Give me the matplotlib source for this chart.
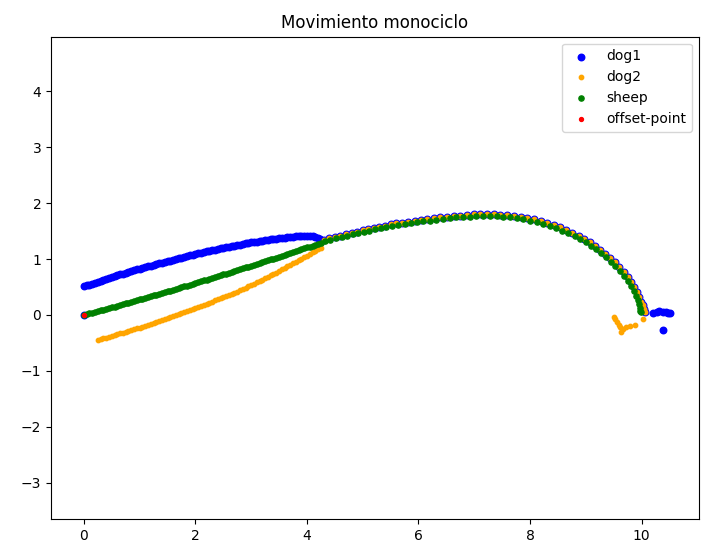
import matplotlib
matplotlib.use('Agg')
import matplotlib.pyplot as plt

# dog1: start point, straight run, arc (shared with dog2), end cluster
dog1_x = [0.0,
          0.00, 0.05, 0.10, 0.15, 0.20, 0.25, 0.30, 0.35, 0.40, 0.45,
          0.50, 0.55, 0.60, 0.65, 0.70, 0.75, 0.80, 0.85, 0.90, 0.95,
          1.00, 1.05, 1.10, 1.15, 1.20, 1.25, 1.30, 1.35, 1.40, 1.45,
          1.50, 1.55, 1.60, 1.65, 1.70, 1.75, 1.80, 1.85, 1.90, 1.95,
          2.00, 2.05, 2.10, 2.15, 2.20, 2.25, 2.30, 2.35, 2.40, 2.45,
          2.50, 2.55, 2.60, 2.65, 2.70, 2.75, 2.80, 2.85, 2.90, 2.95,
          3.00, 3.05, 3.10, 3.15, 3.20, 3.25, 3.30, 3.35, 3.40, 3.45,
          3.50, 3.55, 3.60, 3.65, 3.70, 3.75, 3.80, 3.85, 3.90, 3.95,
          4.00, 4.05, 4.10, 4.15, 4.20, 4.24]
dog1_y = [0.0,
          0.51, 0.528, 0.545, 0.563, 0.58, 0.598, 0.615, 0.633, 0.65, 0.665,
          0.68, 0.695, 0.71, 0.725, 0.74, 0.755, 0.77, 0.785, 0.80, 0.815,
          0.83, 0.843, 0.855, 0.868, 0.88, 0.895, 0.91, 0.923, 0.935, 0.948,
          0.96, 0.975, 0.99, 1.003, 1.015, 1.028, 1.04, 1.053, 1.065, 1.078,
          1.09, 1.103, 1.115, 1.128, 1.14, 1.15, 1.16, 1.17, 1.18, 1.19,
          1.20, 1.21, 1.22, 1.23, 1.24, 1.25, 1.26, 1.27, 1.28, 1.29,
          1.30, 1.308, 1.315, 1.323, 1.33, 1.338, 1.345, 1.353, 1.36, 1.365,
          1.37, 1.378, 1.385, 1.39, 1.395, 1.40, 1.405, 1.41, 1.415, 1.418,
          1.42, 1.415, 1.405, 1.39, 1.375, 1.365]

# arc followed by both dogs
arc_x = [4.30, 4.40, 4.50, 4.60, 4.70, 4.80, 4.90, 5.00, 5.10, 5.20,
         5.30, 5.40, 5.50, 5.60, 5.71, 5.82, 5.93, 6.04, 6.15, 6.27,
         6.39, 6.51, 6.63, 6.75, 6.87, 6.99, 7.11, 7.23, 7.35, 7.47,
         7.59, 7.71, 7.83, 7.95, 8.07, 8.19, 8.31, 8.43, 8.54, 8.65,
         8.76, 8.87, 8.97, 9.07, 9.17, 9.26, 9.35, 9.44, 9.52, 9.60,
         9.68, 9.75, 9.81, 9.87, 9.92, 9.96, 9.99, 10.02, 10.04, 10.06]
arc_y = [1.34, 1.37, 1.395, 1.42, 1.445, 1.47, 1.49, 1.515, 1.535, 1.56,
         1.58, 1.60, 1.62, 1.64, 1.655, 1.67, 1.685, 1.70, 1.715, 1.73,
         1.745, 1.76, 1.77, 1.78, 1.79, 1.80, 1.805, 1.805, 1.80, 1.795,
         1.785, 1.77, 1.755, 1.735, 1.71, 1.68, 1.645, 1.61, 1.57, 1.525,
         1.475, 1.42, 1.365, 1.305, 1.24, 1.17, 1.10, 1.02, 0.945, 0.86,
         0.77, 0.68, 0.59, 0.50, 0.41, 0.32, 0.24, 0.17, 0.11, 0.06]

dog1_end_x = [10.21, 10.27, 10.32, 10.39, 10.44, 10.47, 10.51, 10.39]
dog1_end_y = [0.04, 0.06, 0.08, 0.06, 0.05, 0.04, 0.03, -0.26]

# dog2: straight run, arc, hook at the end
dog2_x = [0.25, 0.30, 0.35, 0.40, 0.45, 0.50, 0.55, 0.60, 0.65, 0.70,
          0.75, 0.80, 0.85, 0.90, 0.95, 1.00, 1.05, 1.10, 1.15, 1.20,
          1.25, 1.30, 1.35, 1.40, 1.45, 1.50, 1.55, 1.60, 1.65, 1.70,
          1.75, 1.80, 1.85, 1.90, 1.95, 2.00, 2.05, 2.10, 2.15, 2.20,
          2.25, 2.30, 2.35, 2.40, 2.45, 2.50, 2.55, 2.60, 2.65, 2.70,
          2.75, 2.80, 2.85, 2.90, 2.95, 3.00, 3.05, 3.10, 3.15, 3.20,
          3.25, 3.30, 3.35, 3.40, 3.45, 3.50, 3.55, 3.60, 3.65, 3.70,
          3.75, 3.80, 3.85, 3.90, 3.95, 4.00, 4.05, 4.10, 4.15, 4.20,
          4.25]
dog2_y = [-0.45, -0.435, -0.42, -0.405, -0.39, -0.375, -0.36, -0.345, -0.33, -0.315,
          -0.30, -0.285, -0.27, -0.255, -0.24, -0.225, -0.21, -0.193, -0.175, -0.158,
          -0.14, -0.123, -0.105, -0.088, -0.07, -0.055, -0.04, -0.023, -0.005, 0.013,
          0.03, 0.048, 0.065, 0.083, 0.10, 0.12, 0.14, 0.16, 0.18, 0.20,
          0.22, 0.24, 0.26, 0.28, 0.30, 0.32, 0.34, 0.36, 0.38, 0.40,
          0.42, 0.44, 0.46, 0.485, 0.51, 0.535, 0.56, 0.585, 0.61, 0.635,
          0.66, 0.685, 0.71, 0.735, 0.76, 0.788, 0.815, 0.843, 0.87, 0.898,
          0.925, 0.953, 0.98, 1.008, 1.035, 1.063, 1.09, 1.12, 1.15, 1.175,
          1.20]
dog2_end_x = [10.02, 9.88, 9.80, 9.73, 9.67, 9.63, 9.62, 9.59, 9.56, 9.53, 9.50]
dog2_end_y = [-0.075, -0.18, -0.20, -0.21, -0.25, -0.30, -0.22, -0.18, -0.13, -0.08, -0.03]

# sheep: straight run then arc
sheep_x = [0.00, 0.05, 0.10, 0.15, 0.20, 0.25, 0.30, 0.35, 0.40, 0.45,
           0.50, 0.55, 0.60, 0.65, 0.70, 0.75, 0.80, 0.85, 0.90, 0.95,
           1.00, 1.05, 1.10, 1.15, 1.20, 1.25, 1.30, 1.35, 1.40, 1.45,
           1.50, 1.55, 1.60, 1.65, 1.70, 1.75, 1.80, 1.85, 1.90, 1.95,
           2.00, 2.05, 2.10, 2.15, 2.20, 2.25, 2.30, 2.35, 2.40, 2.45,
           2.50, 2.55, 2.60, 2.65, 2.70, 2.75, 2.80, 2.85, 2.90, 2.95,
           3.00, 3.05, 3.10, 3.15, 3.20, 3.25, 3.30, 3.35, 3.40, 3.45,
           3.50, 3.55, 3.60, 3.65, 3.70, 3.75, 3.80, 3.85, 3.90, 3.95,
           4.00, 4.05, 4.10, 4.15, 4.20, 4.25,
           4.32, 4.42, 4.52, 4.62, 4.72, 4.82, 4.92, 5.02, 5.12, 5.22,
           5.32, 5.42, 5.53, 5.64, 5.75, 5.86, 5.97, 6.08, 6.20, 6.32,
           6.44, 6.56, 6.68, 6.80, 6.92, 7.04, 7.16, 7.28, 7.40, 7.52,
           7.64, 7.76, 7.88, 8.00, 8.12, 8.24, 8.36, 8.47, 8.58, 8.69,
           8.80, 8.90, 9.00, 9.10, 9.19, 9.28, 9.37, 9.45, 9.53, 9.61,
           9.68, 9.75, 9.81, 9.86, 9.90, 9.93, 9.95, 9.97, 9.98, 9.99]
sheep_y = [0.000, 0.014, 0.027, 0.041, 0.054, 0.068, 0.082, 0.096, 0.109, 0.123,
           0.137, 0.151, 0.165, 0.179, 0.193, 0.207, 0.221, 0.235, 0.250, 0.264,
           0.278, 0.292, 0.307, 0.321, 0.336, 0.350, 0.365, 0.379, 0.394, 0.408,
           0.423, 0.438, 0.452, 0.467, 0.482, 0.497, 0.512, 0.527, 0.542, 0.557,
           0.572, 0.587, 0.602, 0.618, 0.633, 0.648, 0.663, 0.679, 0.694, 0.710,
           0.725, 0.740, 0.756, 0.772, 0.787, 0.803, 0.819, 0.835, 0.850, 0.866,
           0.882, 0.898, 0.914, 0.930, 0.946, 0.962, 0.978, 0.994, 1.010, 1.027,
           1.043, 1.059, 1.076, 1.092, 1.109, 1.125, 1.142, 1.158, 1.175, 1.191,
           1.208, 1.225, 1.241, 1.258, 1.275, 1.29,
           1.32, 1.345, 1.37, 1.395, 1.42, 1.445, 1.465, 1.49, 1.51, 1.535,
           1.555, 1.575, 1.595, 1.615, 1.63, 1.645, 1.66, 1.675, 1.69, 1.705,
           1.72, 1.73, 1.745, 1.755, 1.76, 1.77, 1.775, 1.77, 1.765, 1.755,
           1.745, 1.73, 1.715, 1.69, 1.665, 1.63, 1.595, 1.555, 1.51, 1.46,
           1.41, 1.355, 1.30, 1.24, 1.175, 1.105, 1.03, 0.955, 0.875, 0.79,
           0.70, 0.61, 0.52, 0.43, 0.34, 0.26, 0.19, 0.13, 0.08, 0.05]

offset_x = [0.0]
offset_y = [0.0]

fig = plt.figure(figsize=(7.12, 5.55), dpi=100)
ax = fig.add_axes([0.0716, 0.0649, 0.9101, 0.869])

# snap=False keeps the dense runs smooth instead of stair-stepped
ax.scatter(dog1_x + arc_x + dog1_end_x, dog1_y + arc_y + dog1_end_y,
           s=22, c='blue', label='dog1', snap=False)
ax.scatter(dog2_x + arc_x + dog2_end_x, dog2_y + arc_y + dog2_end_y,
           s=10, c='orange', label='dog2', snap=False)
ax.scatter(sheep_x, sheep_y, s=14, c='green', label='sheep', snap=False)
ax.scatter(offset_x, offset_y, s=8, c='red', label='offset-point', snap=False)

ax.set_xlim(-0.59, 11.03)
ax.set_ylim(-3.65, 4.98)
ax.set_xticks([0, 2, 4, 6, 8, 10])
ax.set_yticks([-3, -2, -1, 0, 1, 2, 3, 4])
ax.set_title('Movimiento monociclo')
ax.legend(loc='upper right')

fig.savefig('out.png', dpi=100)
